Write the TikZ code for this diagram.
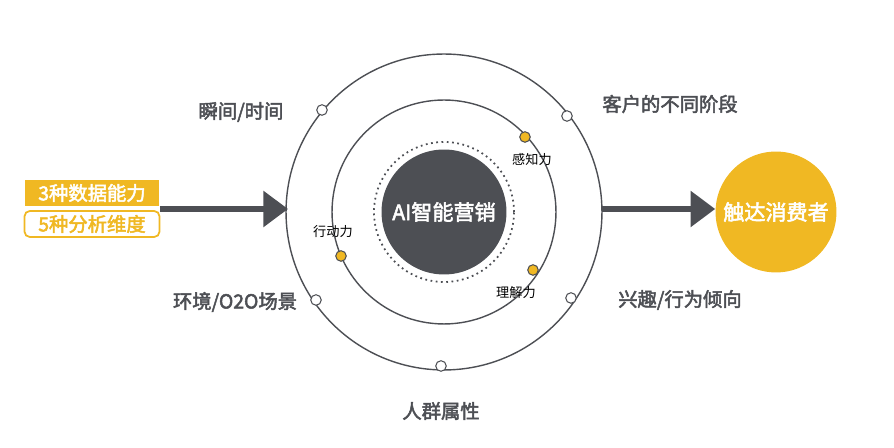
\documentclass[tikz,border=0pt]{standalone}
\usepackage{fontspec}
\setmainfont{Noto Sans CJK SC}
\newfontfamily\cjkbold[FakeBold=2.5]{Noto Sans CJK SC}
\usetikzlibrary{arrows.meta}
\definecolor{darkgrey}{HTML}{4D4F54}
\definecolor{gold}{HTML}{F0B823}
\begin{document}
\begin{tikzpicture}[x=0.02cm,y=-0.02cm,
  biglabel/.style={font=\cjkbold\fontsize{11}{13}\selectfont, text=darkgrey},
  smalllabel/.style={font=\fontsize{7.5}{9}\selectfont, text=black},
  ring/.style={draw=darkgrey, line width=0.8pt},
  whitedot/.style={circle, draw=darkgrey, fill=white, line width=0.6pt, inner sep=0pt, minimum size=6pt},
  golddot/.style={circle, draw=darkgrey, fill=gold, line width=0.6pt, inner sep=0pt, minimum size=6pt},
  bigarrow/.style={line width=3pt, draw=darkgrey, -{Triangle[length=14pt,width=20pt]}}]
  \useasboundingbox (0,0) rectangle (894,448);

  % rings around the core
  \coordinate (c) at (444,212);
  \draw[ring] (c) circle (3.16cm);
  \draw[ring] (c) circle (2.24cm);
  \draw[darkgrey, dotted, line width=1pt] (c) circle (1.4cm);
  \node[circle, fill=darkgrey, minimum size=2.5cm, text=white,
        font=\cjkbold\fontsize{12}{14}\selectfont] (core) at (c) {AI智能营销};

  % dots on the rings
  \node[whitedot] (d1) at (322,110) {};
  \node[whitedot] (d2) at (567,116) {};
  \node[whitedot] (d3) at (316,300) {};
  \node[whitedot] (d4) at (571,298) {};
  \node[whitedot] (d5) at (441,366) {};
  \node[golddot] (g1) at (525,137) {};
  \node[golddot] (g2) at (341,256) {};
  \node[golddot] (g3) at (533,270) {};

  % ring labels
  \node[biglabel] (time) at (241,112) {瞬间/时间};
  \node[biglabel] (stage) at (670,104) {客户的不同阶段};
  \node[biglabel] (env) at (235,302) {环境/O2O场景};
  \node[biglabel] (interest) at (680,300) {兴趣/行为倾向};
  \node[biglabel] (crowd) at (441,411) {人群属性};
  \node[smalllabel] (sense) at (532,160) {感知力};
  \node[smalllabel] (act) at (333,232) {行动力};
  \node[smalllabel] (know) at (516,293) {理解力};

  % inputs on the left
  \node[fill=gold, text=white, font=\cjkbold\fontsize{11}{13}\selectfont,
        minimum width=2.7cm, minimum height=0.52cm, inner sep=0pt] (data) at (92,193) {3种数据能力};
  \node[draw=gold, line width=1pt, rounded corners=3pt, fill=white, text=gold,
        font=\cjkbold\fontsize{11}{13}\selectfont,
        minimum width=2.7cm, minimum height=0.52cm, inner sep=0pt] (dims) at (92,224) {5种分析维度};
  \coordinate (in) at (160,209);
  \coordinate (outer-w) at (288,209);
  \draw[bigarrow] (in) -- (outer-w);

  % output on the right
  \node[circle, fill=gold, minimum size=2.32cm, text=white,
        font=\cjkbold\fontsize{12}{14}\selectfont] (reach) at (776,212) {触达消费者};
  \coordinate (outer-e) at (602,209);
  \draw[bigarrow] (outer-e) -- (reach.west |- outer-e);
\end{tikzpicture}
\end{document}
